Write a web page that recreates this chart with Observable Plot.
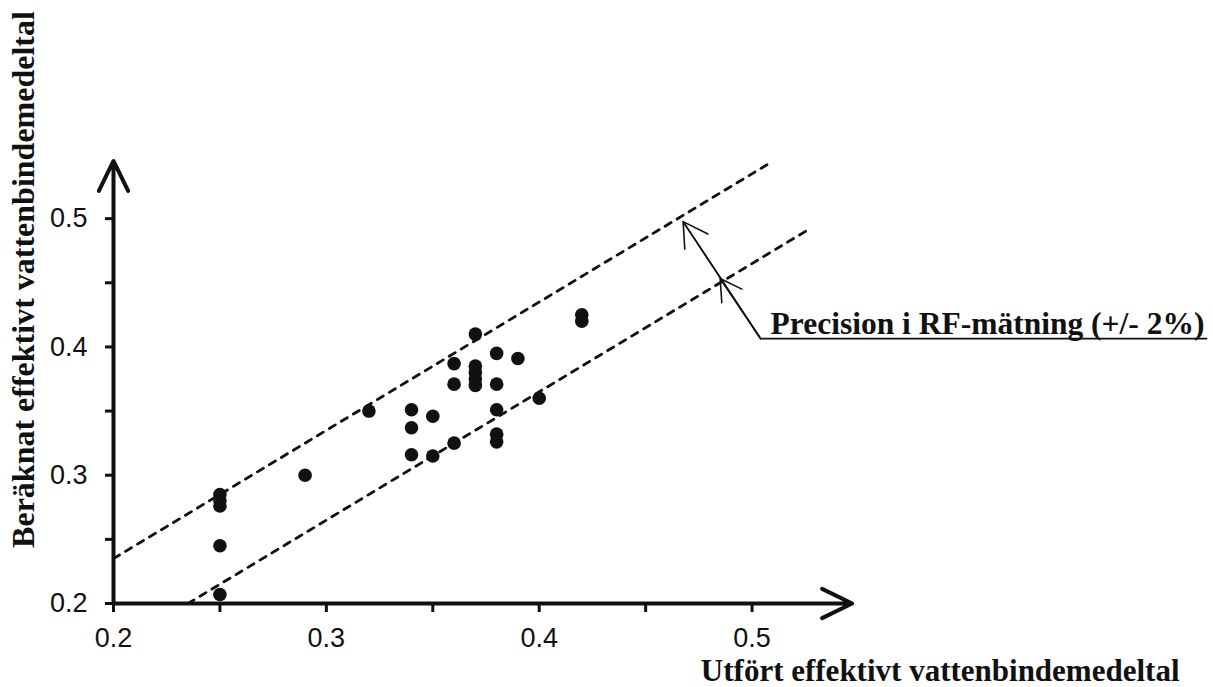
<!DOCTYPE html>
<html>
<head>
<meta charset="utf-8">
<script src="https://cdn.jsdelivr.net/npm/d3@7"></script>
<script src="https://cdn.jsdelivr.net/npm/@observablehq/plot@0.6"></script>
<style>
  html, body { margin: 0; padding: 0; background: #fff; }
  #chart svg { display: block; }
</style>
</head>
<body>
<div id="chart"></div>
<script>
// ---- data ----
const utfort   = [0.25, 0.25, 0.25, 0.25, 0.25, 0.29, 0.32, 0.34, 0.34, 0.34, 0.35, 0.35, 0.36, 0.36, 0.36, 0.37, 0.37, 0.37, 0.37, 0.37, 0.38, 0.38, 0.38, 0.38, 0.38, 0.39, 0.40, 0.42, 0.42];
const beraknat = [0.285, 0.28, 0.276, 0.245, 0.207, 0.30, 0.35, 0.351, 0.337, 0.316, 0.346, 0.315, 0.387, 0.371, 0.325, 0.41, 0.385, 0.38, 0.375, 0.37, 0.395, 0.371, 0.351, 0.332, 0.326, 0.391, 0.36, 0.425, 0.42];

const tickValues = [0.2, 0.25, 0.3, 0.35, 0.4, 0.45, 0.5];
const tickLabels = [0.2, 0.3, 0.4, 0.5];

// precision band: y = x ± offset
const bandOffset = 0.035;
const upperBandX = [0.2, 0.509];
const lowerBandX = [0.235, 0.526];

// axis arrows (data units)
const axisEnds = [
  {x1: 0.2, y1: 0.2, x2: 0.547, y2: 0.2},
  {x1: 0.2, y1: 0.2, x2: 0.2, y2: 0.545}
];

// annotation
const annotationText = "Precision i RF-mätning (+/- 2%)";
const leaderKnee = {x: 0.504, y: 0.4065};
const leaderTips = [{x: 0.4676, y: 0.4977}, {x: 0.485, y: 0.4533}];
const underlineEndX = 0.7136;

const xTitle = "Utfört effektivt vattenbindemedeltal";
const yTitle = "Beräknat effektivt vattenbindemedeltal";

// ---- tables built from the arrays ----
const points = utfort.map((x, i) => ({x, y: beraknat[i]}));
const upperBand = upperBandX.map(x => ({x, y: x + bandOffset}));
const lowerBand = lowerBandX.map(x => ({x, y: x - bandOffset}));
const leaderPath = [leaderTips[0], leaderKnee, {x: underlineEndX, y: leaderKnee.y}];
const leaderArrows = leaderTips.map(t => ({x1: leaderKnee.x, y1: leaderKnee.y, x2: t.x, y2: t.y}));

const ink = "#111";
const serif = "'Liberation Serif', 'Times New Roman', serif";
const sans = "'Liberation Sans', Arial, sans-serif";
const fmt = d => tickLabels.some(t => Math.abs(t - d) < 1e-9) ? d.toFixed(1) : "";

const chart = Plot.plot({
  width: 1213,
  height: 687,
  marginLeft: 113,
  marginRight: 355,
  marginTop: 154,
  marginBottom: 84,
  x: {domain: [0.2, 0.55], label: null},
  y: {domain: [0.2, 0.55], label: null},
  style: {background: "#fff", color: ink, fontFamily: sans},
  marks: [
    Plot.axisX({anchor: "bottom", ticks: tickValues, tickFormat: fmt, tickSize: 9, tickPadding: 15,
      fontSize: 27, fontFamily: sans, strokeWidth: 3, stroke: ink, fill: ink, label: null}),
    Plot.axisY({anchor: "left", ticks: tickValues, tickFormat: fmt, tickSize: 8, tickPadding: 18,
      fontSize: 27, fontFamily: sans, strokeWidth: 3, stroke: ink, fill: ink, label: null}),
    Plot.line(upperBand, {x: "x", y: "y", stroke: ink, strokeWidth: 2.8, strokeDasharray: "7,7"}),
    Plot.line(lowerBand, {x: "x", y: "y", stroke: ink, strokeWidth: 2.8, strokeDasharray: "7,7"}),
    Plot.arrow(axisEnds, {x1: "x1", y1: "y1", x2: "x2", y2: "y2", stroke: ink, strokeWidth: 4,
      headLength: 12.5, headAngle: 52}),
    Plot.dot(points, {x: "x", y: "y", r: 6.8, fill: ink, stroke: "none"}),
    Plot.line(leaderPath, {x: "x", y: "y", stroke: ink, strokeWidth: 1.6}),
    Plot.arrow(leaderArrows, {x1: "x1", y1: "y1", x2: "x2", y2: "y2", stroke: ink, strokeWidth: 1.6,
      headLength: 26, headAngle: 60}),
    Plot.text([annotationText], {x: leaderKnee.x, y: leaderKnee.y, text: d => d, textAnchor: "start",
      lineAnchor: "bottom", dx: 10, dy: -5, fontSize: 31.5, fontWeight: "bold", fontFamily: serif, fill: ink}),
    Plot.text([xTitle], {frameAnchor: "bottom-right", text: d => d, textAnchor: "end", lineAnchor: "bottom",
      dx: 321, dy: 77, fontSize: 31, fontWeight: "bold", fontFamily: serif, fill: ink}),
    Plot.text([yTitle], {frameAnchor: "left", text: d => d, textAnchor: "middle", lineAnchor: "bottom",
      rotate: -90, dx: -80, dy: -99.5, fontSize: 32, fontWeight: "bold", fontFamily: serif, fill: ink})
  ]
});
document.getElementById("chart").appendChild(chart);
</script>
</body>
</html>
